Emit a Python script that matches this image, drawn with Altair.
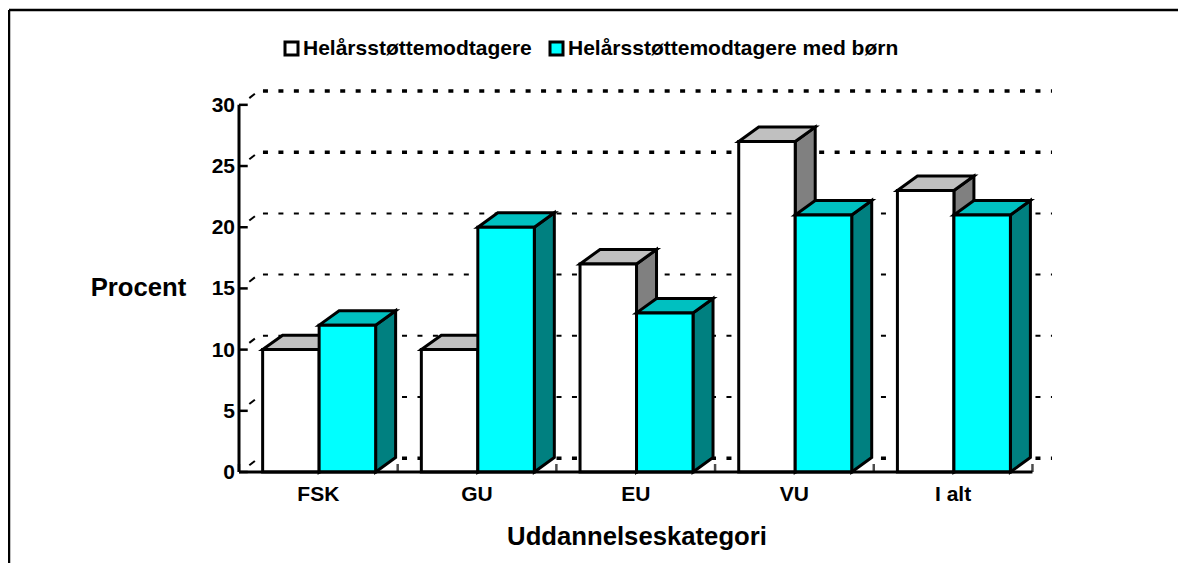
import altair as alt
import pandas as pd

categories = ["FSK", "GU", "EU", "VU", "I alt"]
series_a_name = "Helårsstøttemodtagere"
series_b_name = "Helårsstøttemodtagere med børn"
series_a = [10, 10, 17, 27, 23]
series_b = [12, 20, 13, 21, 21]
y_ticks = [0, 5, 10, 15, 20, 25, 30]
grid_strong = [0, 25, 30]
grid_light = [5, 10, 15, 20]

BAR_W, PAD, DX, DY = 0.356, 0.149, 0.126, 1.18
GRID_DY, GRID_X0, GRID_X1 = 1.13, 0.151, 5.123
X_MAX, Y_MAX = 5.142, 30 + GRID_DY
FONT = "Liberation Sans"

xs = alt.Scale(domain=[0, X_MAX], nice=False, zero=False)
ys = alt.Scale(domain=[0, Y_MAX], nice=False, zero=False)
X = lambda f="x": alt.X(f"{f}:Q", scale=xs, axis=None)
Y = lambda f="y": alt.Y(f"{f}:Q", scale=ys, axis=None)


def rows(values, slot):
    front, side, top = [], [], []
    for i, v in enumerate(values):
        l = i + PAD + slot * BAR_W
        r = l + BAR_W
        front.append(dict(x=l, x2=r, y=0, y2=v))
        side += [dict(b=i, x=r, y=0, y2=v), dict(b=i, x=r + DX, y=DY, y2=v + DY)]
        top += [
            dict(b=i, x=l, y=v, y2=v),
            dict(b=i, x=l + DX, y=v, y2=v + DY),
            dict(b=i, x=r, y=v, y2=v + DY),
            dict(b=i, x=r + DX, y=v + DY, y2=v + DY),
        ]
    return pd.DataFrame(front), pd.DataFrame(side), pd.DataFrame(top)


def bar_layers(values, slot, name, top_c, side_c):
    front, side, top = rows(values, slot)
    st = dict(stroke="black", strokeWidth=3, strokeJoin="miter")
    front["s"] = name
    color = alt.Color(
        "s:N",
        scale=alt.Scale(domain=[series_a_name, series_b_name], range=["#FFFFFF", "#00FFFF"]),
        legend=alt.Legend(
            title=None, orient="none", direction="horizontal", legendX=42, legendY=-53,
            symbolType="square", symbolSize=169, symbolStrokeColor="black", symbolStrokeWidth=3,
            symbolOpacity=1, labelFont=FONT, labelFontWeight="bold", labelFontSize=21,
            labelColor="black", labelLimit=500, columnPadding=12, labelOffset=1,
        ),
    )
    return [
        alt.Chart(side).mark_area(color=side_c, **st, interpolate="linear").encode(x=X(), y=Y(), y2="y2:Q", detail="b:N"),
        alt.Chart(top).mark_area(color=top_c, **st, interpolate="linear").encode(x=X(), y=Y(), y2="y2:Q", detail="b:N"),
        alt.Chart(front).mark_rect(**st).encode(x=X(), x2="x2:Q", y=Y(), y2="y2:Q", fill=color),
    ]


def grid(values, width):
    df = pd.DataFrame({"v": [v + GRID_DY for v in values], "x": GRID_X0, "x2": GRID_X1})
    return alt.Chart(df).mark_rule(color="black", strokeWidth=width, strokeDash=[5, 10.45]).encode(
        x=X(), x2="x2:Q", y=Y("v")
    )


wall = pd.DataFrame({"x": 0.065, "x2": 0.1, "y": [v + 0.55 for v in y_ticks], "y2": [v + 0.9 for v in y_ticks]})
walls = alt.Chart(wall).mark_rule(color="black", strokeWidth=2).encode(x=X(), x2="x2:Q", y=Y(), y2="y2:Q")

y_df = pd.DataFrame({"v": y_ticks, "x": 0, "x2": 0.055, "lab": [str(t) for t in y_ticks]})
y_ticks_m = alt.Chart(y_df).mark_rule(color="black", strokeWidth=2.5).encode(x=X(), x2="x2:Q", y=Y("v"))
y_line = alt.Chart(pd.DataFrame({"x": [0], "y": [0], "y2": [30]})).mark_rule(color="black", strokeWidth=3).encode(
    x=X(), y=Y(), y2="y2:Q"
)
x_line = alt.Chart(pd.DataFrame({"x": [0], "x2": [5], "y": [0]})).mark_rule(color="black", strokeWidth=3).encode(
    x=X(), x2="x2:Q", y=Y()
)
y_labels = alt.Chart(y_df).mark_text(
    align="right", baseline="middle", dx=-4, dy=1, font=FONT, fontWeight="bold", fontSize=21, color="black"
).encode(x=X(), y=Y("v"), text="lab:N")
x_df = pd.DataFrame({"x": [i + 0.5 for i in range(len(categories))], "lab": categories, "y": 0})
x_labels = alt.Chart(x_df).mark_text(
    baseline="middle", dy=23, font=FONT, fontWeight="bold", fontSize=21, color="black"
).encode(x=X(), y=Y(), text="lab:N")
x_tick_df = pd.DataFrame({"x": list(range(0, 6)), "y": 0})
x_ticks = alt.Chart(x_tick_df).mark_tick(orient="vertical", color="black", thickness=2.5, size=8, yOffset=-4).encode(x=X(), y=Y())

title_y = alt.Chart(pd.DataFrame({"t": ["Procent"]})).mark_text(
    font=FONT, fontWeight="bold", fontSize=25.7, color="black", align="center", baseline="middle"
).encode(text="t:N", x=alt.value(-100.5), y=alt.value(197))
title_x = alt.Chart(pd.DataFrame({"t": ["Uddannelseskategori"]})).mark_text(
    font=FONT, fontWeight="bold", fontSize=25.7, color="black", align="center", baseline="middle"
).encode(text="t:N", x=alt.value(398), y=alt.value(446))

frame_top = alt.Chart(pd.DataFrame({"t": [0]})).mark_rule(color="black", strokeWidth=2.5).encode(
    x=alt.value(-230), x2=alt.value(947), y=alt.value(-81)
)
frame_left = alt.Chart(pd.DataFrame({"t": [0]})).mark_rule(color="black", strokeWidth=2.5).encode(
    x=alt.value(-230), y=alt.value(-81), y2=alt.value(490)
)

chart = alt.layer(
    frame_top, frame_left, grid(grid_strong, 3.5), grid(grid_light, 2), walls,
    y_line, y_ticks_m, x_ticks,
    *bar_layers(series_a, 0, series_a_name, "#C0C0C0", "#808080"),
    *bar_layers(series_b, 1, series_b_name, "#00C0C0", "#008080"),
    x_line, y_labels, x_labels, title_y, title_x,
).properties(
    width=816, height=381,
    autosize=alt.AutoSizeParams(type="none"),
    padding={"left": 231, "top": 83, "right": 123, "bottom": 91},
).configure_view(stroke=None)

chart.save("out.html", embed_options={"renderer": "svg", "actions": False})
